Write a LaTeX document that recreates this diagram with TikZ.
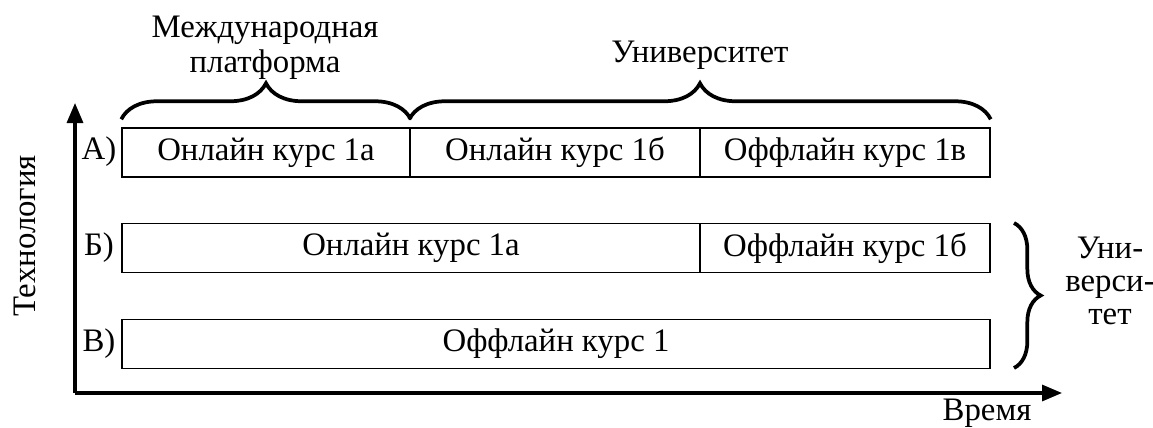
\documentclass[tikz,border=0pt]{standalone}
\usepackage{fontspec}
\setmainfont{Liberation Serif}
\usetikzlibrary{arrows.meta,decorations.pathreplacing}
\begin{document}
\begin{tikzpicture}[x=0.75pt,y=-0.75pt,
  every node/.style={font=\fontsize{24.6}{26}\selectfont},
  cell/.style={draw, line width=1.1pt, inner sep=0pt, minimum height=36.75pt},
  axis/.style={line width=2.4pt, -{Triangle[length=15pt,width=12pt]}},
  brace/.style={line width=2.8pt, decorate, decoration={brace, amplitude=#1}},
  lbl/.style={inner sep=0pt, align=center}]
\useasboundingbox (0,0) rectangle (1153,428);
% axes
\coordinate (origin) at (75,393);
\coordinate (ytip) at (75,103);
\coordinate (xtip) at (1062,393);
\draw[axis] (origin) -- (ytip);
\draw[axis] (origin) -- (xtip);
\node[lbl, rotate=90] (tech) at (25,236) {Технология};
\node[lbl] (time) at (987,413) {Время};
% row A
\node[cell, minimum width=216pt] (a1) at (266,152.5) {Онлайн курс 1а};
\node[cell, minimum width=217.5pt] (a2) at (555,152.5) {Онлайн курс 1б};
\node[cell, minimum width=217.5pt] (a3) at (845,152.5) {Оффлайн курс 1в};
% row B
\node[cell, minimum width=433.5pt] (b1) at (411,248) {Онлайн курс 1а};
\node[cell, minimum width=217.5pt] (b2) at (845,248) {Оффлайн курс 1б};
% row C
\node[cell, minimum width=651pt] (c1) at (556,344) {Оффлайн курс 1};
% row labels
\node[lbl] (la) at (99,152) {А)};
\node[lbl] (lb) at (99,248) {Б)};
\node[lbl] (lc) at (99,344) {В)};
% top braces
\draw[brace=27pt] ([yshift=6pt]a1.north west) -- ([yshift=6pt]a1.north east);
\draw[brace=27pt] ([yshift=6pt]a2.north west) -- ([yshift=6pt]a3.north east);
\node[lbl] (intl) at (265,48) {Международная\\платформа};
\node[lbl] (univ) at (700,55) {Университет};
% right brace
\coordinate (rb1) at (1014,223);
\coordinate (rb2) at (1014,368);
\draw[brace=20pt] (rb1) -- (rb2);
\node[lbl, font=\fontsize{24.6}{25}\selectfont] (univ2) at (1110,281) {Уни-\\верси-\\тет};
\end{tikzpicture}
\end{document}
